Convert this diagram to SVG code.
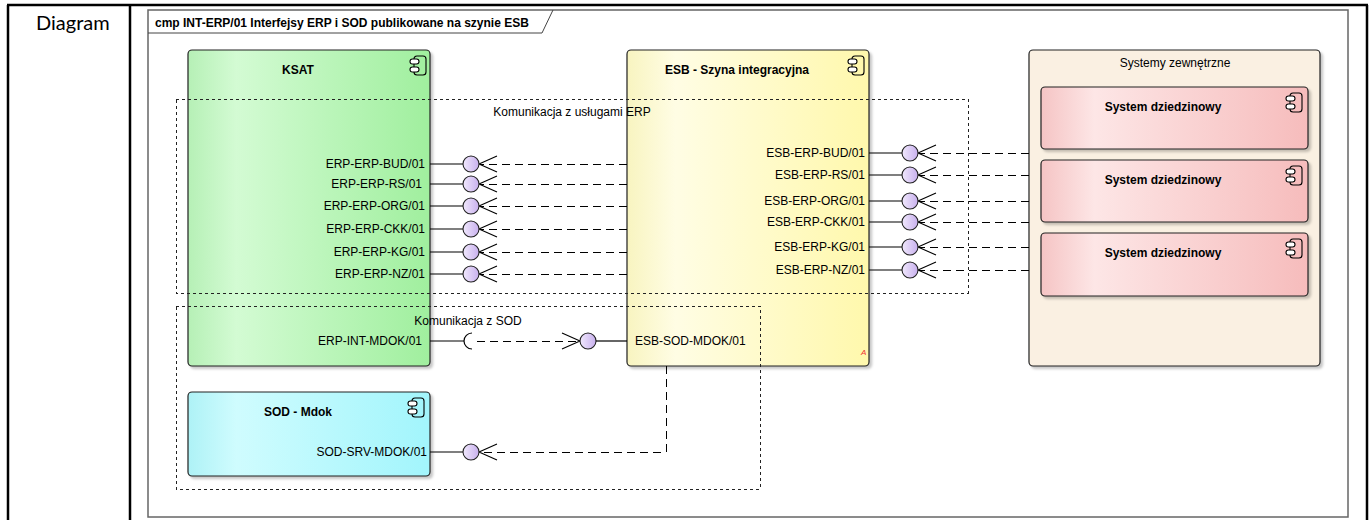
<svg xmlns="http://www.w3.org/2000/svg" width="1371" height="520" viewBox="0 0 1371 520">
<style>
.t{font-family:"Liberation Sans",Arial,sans-serif;font-size:12px;fill:#000}
.b{font-weight:bold}
.e{text-anchor:end}
.m{text-anchor:middle}
.box{stroke:#222;stroke-width:1.2}
.bnd{fill:none;stroke:#222;stroke-width:1;stroke-dasharray:3 3;shape-rendering:crispEdges}
.sol{stroke:#000;stroke-width:1.2;fill:none}
.dsh{stroke:#000;stroke-width:1;fill:none;stroke-dasharray:8 5;shape-rendering:crispEdges}
.arr{stroke:#000;stroke-width:1.1;fill:none}
.lol{fill:url(#gLav);stroke:#222;stroke-width:1.1}
.ico rect{stroke:#000;stroke-width:1.1}
</style>
<defs>
<linearGradient id="gGreen" x1="0" x2="1" y1="0" y2="0"><stop offset="0" stop-color="#b6f0b6"/><stop offset="0.2" stop-color="#d3fbd3"/><stop offset="1" stop-color="#a0ef9e"/></linearGradient>
<linearGradient id="gYel" x1="0" x2="1" y1="0" y2="0"><stop offset="0" stop-color="#f8f4c0"/><stop offset="0.2" stop-color="#fffde4"/><stop offset="1" stop-color="#fff8ac"/></linearGradient>
<linearGradient id="gCyan" x1="0" x2="1" y1="0" y2="0"><stop offset="0" stop-color="#aef2f6"/><stop offset="0.2" stop-color="#cffcfe"/><stop offset="1" stop-color="#a2f5fc"/></linearGradient>
<linearGradient id="gPink" x1="0" x2="1" y1="0" y2="0"><stop offset="0" stop-color="#f5c4c4"/><stop offset="0.2" stop-color="#fde6e6"/><stop offset="1" stop-color="#f6bcbc"/></linearGradient>
<linearGradient id="gLav" x1="0" x2="1" y1="0" y2="0"><stop offset="0" stop-color="#f0e8fc"/><stop offset="1" stop-color="#c8b0ee"/></linearGradient>
<filter id="sh" x="-5%" y="-5%" width="115%" height="115%"><feDropShadow dx="2.5" dy="2.5" stdDeviation="1" flood-color="#000" flood-opacity="0.22"/></filter>
<g id="cmpIcon" class="ico"><rect x="4" y="0" width="12" height="19" rx="3" fill="none"/><rect x="0" y="3" width="9" height="5" rx="2.5" fill="#fff"/><rect x="0" y="11" width="9" height="5" rx="2.5" fill="#fff"/></g>
</defs>
<rect width="1371" height="520" fill="#fff"/>
<g id="table" stroke="#000" stroke-width="2.5">
<line x1="7" y1="5" x2="1368" y2="5"/>
<line x1="8" y1="5" x2="8" y2="520"/>
<line x1="130" y1="5" x2="130" y2="520"/>
<line x1="1367" y1="5" x2="1367" y2="520"/>
</g>
<text x="36" y="30" style="font-family:Lato,'Open Sans',sans-serif;font-size:20px">Diagram</text>
<g id="frame">
<rect x="148" y="10" width="1200" height="507" fill="none" stroke="#666" stroke-width="1.5"/>
<path d="M148,33 H542 L553,10" fill="none" stroke="#444" stroke-width="1"/>
<text class="t b" x="155" y="27">cmp INT-ERP/01 Interfejsy ERP i SOD publikowane na szynie ESB</text>
</g>
<g id="systemy-zewnetrzne">
<rect class="box" x="1029" y="50" width="291" height="316" rx="4" fill="#faf0e2" filter="url(#sh)"/>
<text class="t m" x="1175" y="67">Systemy zewnętrzne</text>
</g>
<g id="system-dziedzinowy-1">
<rect class="box" x="1041" y="87" width="267" height="62" rx="4" fill="url(#gPink)" filter="url(#sh)"/>
<text class="t b m" x="1163" y="111">System dziedzinowy</text>
<use href="#cmpIcon" x="1286" y="93"/>
</g>
<g id="system-dziedzinowy-2">
<rect class="box" x="1041" y="160" width="267" height="62" rx="4" fill="url(#gPink)" filter="url(#sh)"/>
<text class="t b m" x="1163" y="184">System dziedzinowy</text>
<use href="#cmpIcon" x="1286" y="166"/>
</g>
<g id="system-dziedzinowy-3">
<rect class="box" x="1041" y="233" width="267" height="63" rx="4" fill="url(#gPink)" filter="url(#sh)"/>
<text class="t b m" x="1163" y="257">System dziedzinowy</text>
<use href="#cmpIcon" x="1286" y="239"/>
</g>
<g id="ksat">
<rect class="box" x="188" y="50" width="242" height="316" rx="4" fill="url(#gGreen)" filter="url(#sh)"/>
<text class="t b m" x="298" y="74">KSAT</text>
<use href="#cmpIcon" x="410" y="56"/>
</g>
<g id="esb">
<rect class="box" x="627" y="50" width="242" height="316" rx="4" fill="url(#gYel)" filter="url(#sh)"/>
<text class="t b m" x="737" y="74">ESB - Szyna integracyjna</text>
<use href="#cmpIcon" x="848" y="56"/>
<text x="861" y="355" style="font-family:'Liberation Sans',Arial,sans-serif;font-size:8px;font-style:italic;fill:#f03030">A</text>
</g>
<g id="sod-mdok">
<rect class="box" x="188" y="392" width="242" height="84" rx="4" fill="url(#gCyan)" filter="url(#sh)"/>
<text class="t b m" x="298" y="416">SOD - Mdok</text>
<use href="#cmpIcon" x="408" y="398"/>
</g>
<g id="boundary-erp">
<rect class="bnd" x="176" y="99" width="792" height="194"/>
<text class="t m" x="572" y="116">Komunikacja z usługami ERP</text>
</g>
<g id="boundary-sod">
<rect class="bnd" x="176" y="306" width="584" height="183"/>
<text class="t m" x="468" y="325">Komunikacja z SOD</text>
</g>
<g id="connectors">
<g>
<line class="sol" x1="430" y1="164" x2="463" y2="164"/><line class="dsh" x1="627" y1="164" x2="480" y2="164"/><polyline class="arr" points="497,156 479,164 497,172"/><circle class="lol" cx="471" cy="164" r="8"/>
<line class="sol" x1="430" y1="184" x2="463" y2="184"/><line class="dsh" x1="627" y1="184" x2="480" y2="184"/><polyline class="arr" points="497,176 479,184 497,192"/><circle class="lol" cx="471" cy="184" r="8"/>
<line class="sol" x1="430" y1="206" x2="463" y2="206"/><line class="dsh" x1="627" y1="206" x2="480" y2="206"/><polyline class="arr" points="497,198 479,206 497,214"/><circle class="lol" cx="471" cy="206" r="8"/>
<line class="sol" x1="430" y1="229" x2="463" y2="229"/><line class="dsh" x1="627" y1="229" x2="480" y2="229"/><polyline class="arr" points="497,221 479,229 497,237"/><circle class="lol" cx="471" cy="229" r="8"/>
<line class="sol" x1="430" y1="252" x2="463" y2="252"/><line class="dsh" x1="627" y1="252" x2="480" y2="252"/><polyline class="arr" points="497,244 479,252 497,260"/><circle class="lol" cx="471" cy="252" r="8"/>
<line class="sol" x1="430" y1="274" x2="463" y2="274"/><line class="dsh" x1="627" y1="274" x2="480" y2="274"/><polyline class="arr" points="497,266 479,274 497,282"/><circle class="lol" cx="471" cy="274" r="8"/>
</g>
<g>
<line class="sol" x1="869" y1="153" x2="902" y2="153"/><line class="dsh" x1="1029" y1="153" x2="919" y2="153"/><polyline class="arr" points="936,145 918,153 936,161"/><circle class="lol" cx="910" cy="153" r="8"/>
<line class="sol" x1="869" y1="175" x2="902" y2="175"/><line class="dsh" x1="1029" y1="175" x2="919" y2="175"/><polyline class="arr" points="936,167 918,175 936,183"/><circle class="lol" cx="910" cy="175" r="8"/>
<line class="sol" x1="869" y1="201" x2="902" y2="201"/><line class="dsh" x1="1029" y1="201" x2="919" y2="201"/><polyline class="arr" points="936,193 918,201 936,209"/><circle class="lol" cx="910" cy="201" r="8"/>
<line class="sol" x1="869" y1="222" x2="902" y2="222"/><line class="dsh" x1="1029" y1="222" x2="919" y2="222"/><polyline class="arr" points="936,214 918,222 936,230"/><circle class="lol" cx="910" cy="222" r="8"/>
<line class="sol" x1="869" y1="247" x2="902" y2="247"/><line class="dsh" x1="1029" y1="247" x2="919" y2="247"/><polyline class="arr" points="936,239 918,247 936,255"/><circle class="lol" cx="910" cy="247" r="8"/>
<line class="sol" x1="869" y1="270" x2="902" y2="270"/><line class="dsh" x1="1029" y1="270" x2="919" y2="270"/><polyline class="arr" points="936,262 918,270 936,278"/><circle class="lol" cx="910" cy="270" r="8"/>
</g>
<g>
<line class="sol" x1="430" y1="341" x2="464" y2="341"/>
<path class="sol" d="M472,333 A8,8 0 0 0 472,349"/>
<line class="dsh" x1="477" y1="341" x2="579" y2="341"/>
<polyline class="arr" points="562,333 580,341 562,349"/>
<circle class="lol" cx="588" cy="341" r="8"/>
<line class="sol" x1="596" y1="341" x2="627" y2="341"/>
<line class="sol" x1="430" y1="452" x2="463" y2="452"/>
<path class="dsh" d="M666,366 V452 H480"/>
<polyline class="arr" points="497,444 479,452 497,460"/>
<circle class="lol" cx="471" cy="452" r="8"/>
</g>
</g>
<g id="labels">
<text class="t e" x="425" y="168">ERP-ERP-BUD/01</text>
<text class="t e" x="422" y="188">ERP-ERP-RS/01</text>
<text class="t e" x="425" y="210">ERP-ERP-ORG/01</text>
<text class="t e" x="425" y="233">ERP-ERP-CKK/01</text>
<text class="t e" x="425" y="256">ERP-ERP-KG/01</text>
<text class="t e" x="425" y="278">ERP-ERP-NZ/01</text>
<text class="t e" x="865" y="157">ESB-ERP-BUD/01</text>
<text class="t e" x="865" y="179">ESB-ERP-RS/01</text>
<text class="t e" x="865" y="205">ESB-ERP-ORG/01</text>
<text class="t e" x="865" y="226">ESB-ERP-CKK/01</text>
<text class="t e" x="865" y="251">ESB-ERP-KG/01</text>
<text class="t e" x="865" y="274">ESB-ERP-NZ/01</text>
<text class="t e" x="422" y="345">ERP-INT-MDOK/01</text>
<text class="t" x="635" y="345">ESB-SOD-MDOK/01</text>
<text class="t e" x="427" y="456">SOD-SRV-MDOK/01</text>
</g>
</svg>
